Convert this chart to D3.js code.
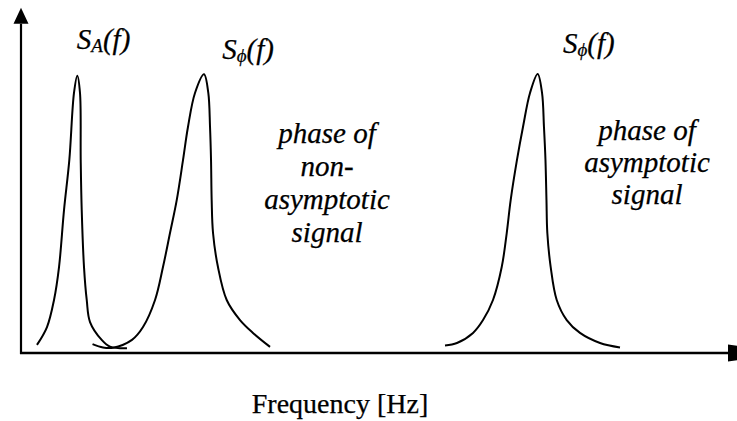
<!DOCTYPE html>
<html>
<head>
<meta charset="utf-8">
<script src="https://cdn.jsdelivr.net/npm/d3@7"></script>
<style>
  html, body { margin: 0; padding: 0; background: #fff; }
  svg { display: block; }
  text { font-family: "Liberation Serif", "Times New Roman", serif; fill: #000; stroke: #000; stroke-width: 0.25; }
  text.it { font-style: italic; }
</style>
</head>
<body>
<div id="chart"></div>
<script>
// Spectral densities: frequency in arbitrary units, amplitude normalised to the peak
const spectrumA = [
  [2.23, 0.029], [3.63, 0.093], [4.61, 0.190], [5.31, 0.308], [6.01, 0.513],
  [6.75, 0.692], [7.40, 0.932], [7.86, 0.994], [8.24, 0.932], [8.34, 0.692],
  [8.48, 0.513], [8.80, 0.308], [9.18, 0.190], [9.64, 0.111], [11.27, 0.047],
  [12.43, 0.023], [14.80, 0.017]
];
const spectrumPhaseNonAsym = [
  [9.99, 0.032], [11.45, 0.020], [12.85, 0.019], [15.50, 0.047], [17.04, 0.093],
  [18.72, 0.190], [19.83, 0.308], [20.81, 0.430], [21.75, 0.548], [22.63, 0.692],
  [23.32, 0.810], [24.30, 0.932], [25.56, 0.999], [26.16, 0.932], [26.40, 0.810],
  [26.54, 0.692], [26.63, 0.548], [26.82, 0.430], [27.51, 0.308], [28.73, 0.190],
  [30.59, 0.118], [32.40, 0.072], [34.78, 0.022]
];
const spectrumPhaseAsym = [
  [59.22, 0.027], [60.89, 0.036], [63.13, 0.072], [64.53, 0.118], [65.92, 0.190],
  [67.14, 0.308], [67.84, 0.430], [68.39, 0.548], [69.27, 0.692], [70.11, 0.810],
  [71.09, 0.932], [72.16, 1.000], [72.77, 0.932], [73.04, 0.810], [73.25, 0.692],
  [73.39, 0.548], [73.51, 0.430], [73.98, 0.308], [74.82, 0.190], [76.22, 0.118],
  [78.07, 0.072], [80.87, 0.036], [83.66, 0.020]
];

// Annotation text
const peakLabels = [
  { f: 7.8,  a: 1.09, base: "S", sub: "A", tail: "(f)" },
  { f: 28.1, a: 1.055, base: "S", sub: "\u03D5", tail: "(f)" },
  { f: 75.7, a: 1.075, base: "S", sub: "\u03D5", tail: "(f)" }
];
const noteLeft = ["phase of", "non-", "asymptotic", "signal"];
const noteRight = ["phase of", "asymptotic", "signal"];
const xAxisTitle = "Frequency [Hz]";

const W = 737, H = 421;
const svg = d3.select("#chart").append("svg")
  .attr("width", W).attr("height", H);

const x = d3.scaleLinear().domain([0, 100]).range([21, 737]);
const y = d3.scaleLinear().domain([0, 1]).range([353, 74]);

// Axes (no ticks) with arrowheads
const axisG = svg.append("g");
axisG.append("g")
  .attr("transform", `translate(0,${y(0)})`)
  .call(d3.axisBottom(x).tickValues([]).tickSizeOuter(0))
  .call(g => g.select(".domain")
    .attr("d", `M${x(0) - 1},0H${x(100) - 8}`)
    .attr("stroke", "#000").attr("stroke-width", 2.4));
axisG.append("g")
  .attr("transform", `translate(${x(0)},0)`)
  .call(d3.axisLeft(y).tickValues([]).tickSizeOuter(0))
  .call(g => g.select(".domain")
    .attr("d", `M0,${y(0) + 1}V${y(1.18)}`)
    .attr("stroke", "#000").attr("stroke-width", 2.2));

// arrowheads
const yTop = y(1.18);
svg.append("path")
  .attr("d", `M${x(0)},${yTop - 16}L${x(0) - 7.5},${yTop}L${x(0) + 7.5},${yTop}Z`)
  .attr("fill", "#000");
const xEnd = x(100) - 9;
svg.append("path")
  .attr("d", `M${xEnd + 60},${y(0)}L${xEnd},${y(0) - 8.5}L${xEnd},${y(0) + 8.5}Z`)
  .attr("fill", "#000");

// Spectral curves
const line = d3.line()
  .x(d => x(d[0])).y(d => y(d[1]))
  .curve(d3.curveCatmullRom.alpha(0.5));

[spectrumA, spectrumPhaseNonAsym, spectrumPhaseAsym].forEach(s => {
  svg.append("path")
    .datum(s)
    .attr("d", line)
    .attr("fill", "none")
    .attr("stroke", "#000")
    .attr("stroke-width", 2);
});

// Peak labels S_A(f), S_phi(f)
peakLabels.forEach(p => {
  const t = svg.append("text")
    .attr("class", "it")
    .attr("x", x(p.f)).attr("y", y(p.a))
    .attr("font-size", 29);
  t.append("tspan").text(p.base);
  t.append("tspan").attr("font-size", 19).attr("dy", 3).text(p.sub);
  t.append("tspan").attr("dy", -3).text(p.tail);
});

// Descriptive notes
function note(lines, cx, firstBaseline, step) {
  svg.append("g").selectAll("text")
    .data(lines).join("text")
    .attr("class", "it")
    .attr("x", cx)
    .attr("y", (d, i) => firstBaseline + i * step)
    .attr("text-anchor", "middle")
    .attr("font-size", 29)
    .text(d => d);
}
note(noteLeft, 327, 143, 33);
note(noteRight, 647, 140, 32);

// Axis title
svg.append("text")
  .attr("x", 340).attr("y", 413)
  .attr("text-anchor", "middle")
  .attr("font-size", 28)
  .text(xAxisTitle);
</script>
</body>
</html>
